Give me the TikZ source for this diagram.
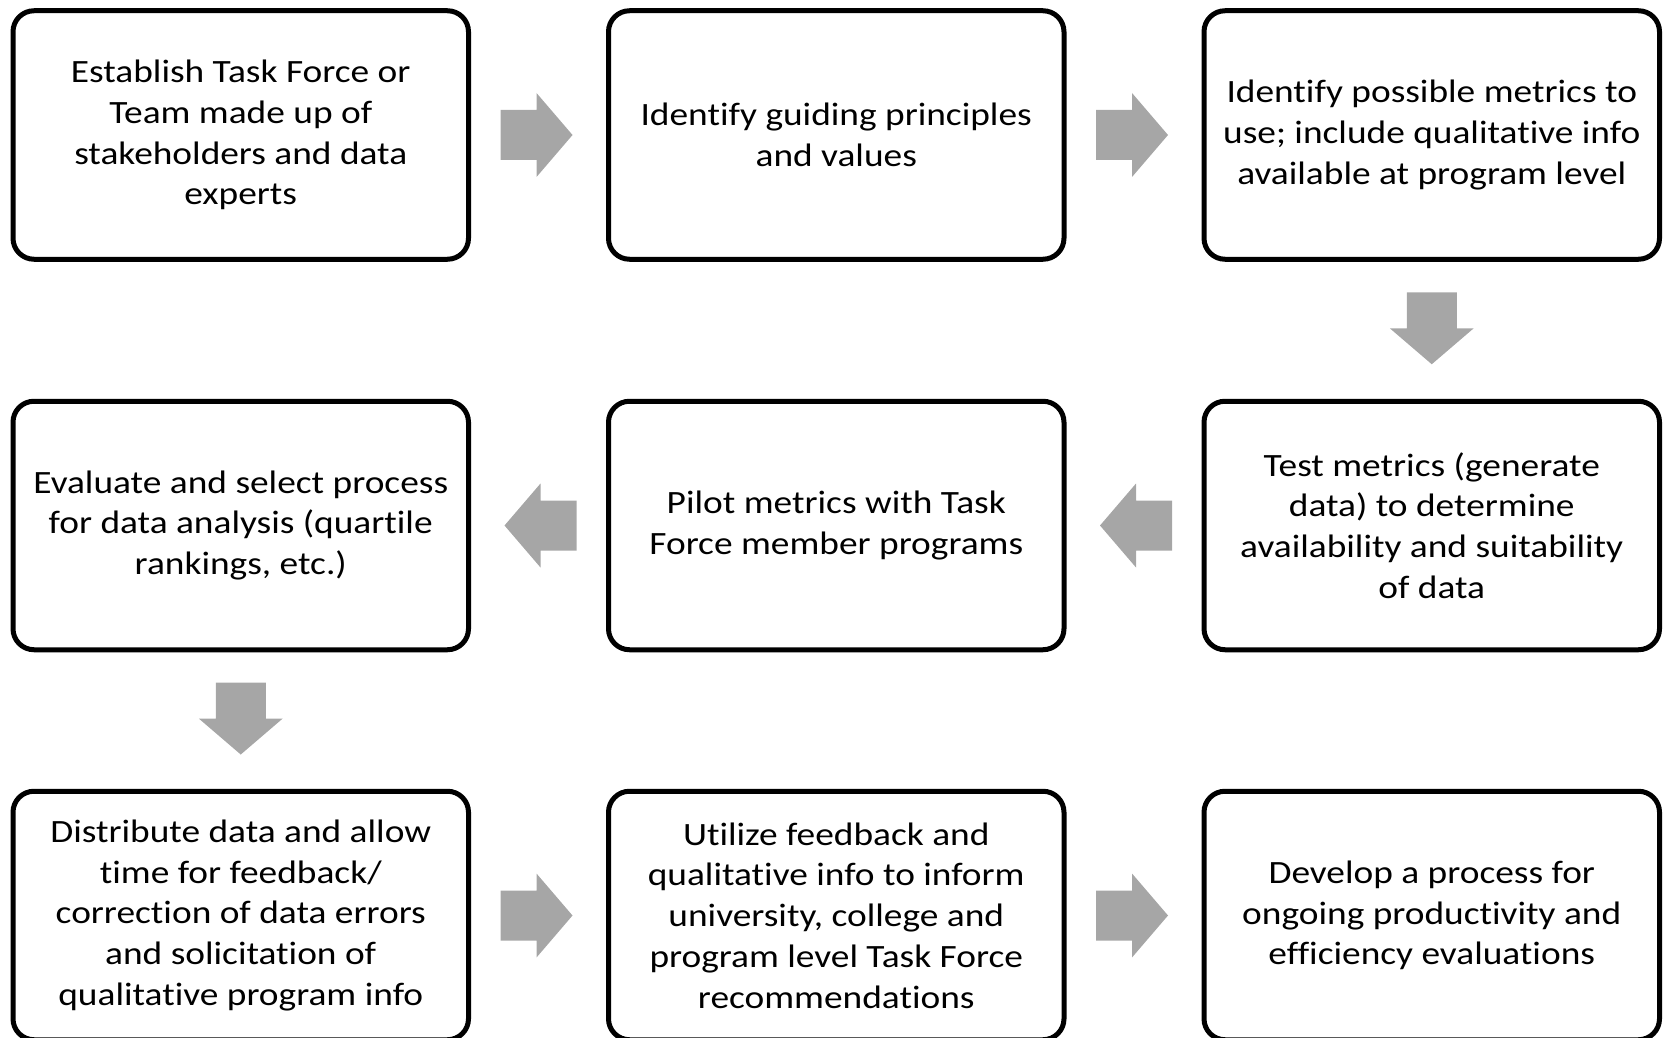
\documentclass[tikz,border=0pt]{standalone}
\usepackage{fontspec}
\setmainfont{Carlito}[FakeStretch=1.15, Ligatures=NoCommon]
\usetikzlibrary{calc}
\definecolor{arrowgray}{HTML}{A6A6A6}
\tikzset{
  stepbox/.style={draw=black, line width=5pt, fill=white, rounded corners=21pt,
    minimum width=455.5pt, minimum height=248.5pt, inner sep=0pt, align=center,
    font=\fontsize{32.5pt}{40.8pt}\selectfont},
  % grey block arrow pointing along +x, slightly set back toward its tail
  pics/blockarrow/.style={code={
    \fill[arrowgray] (-38pt,-25pt) -- (-2pt,-25pt) -- (-2pt,-42pt) -- (34pt,0pt)
      -- (-2pt,42pt) -- (-2pt,25pt) -- (-38pt,25pt) -- cycle;}}
}
\begin{document}
\begin{tikzpicture}
\useasboundingbox (0pt,0pt) rectangle (1663pt,-1038pt);
\clip (0pt,0pt) rectangle (1663pt,-1038pt);

% first row
\node[stepbox] (s1) at (240.75pt,-135pt) {Establish Task Force or\\Team made up of\\stakeholders and data\\experts};
\node[stepbox] (s2) at (836.25pt,-135pt) {Identify guiding principles\\and values};
\node[stepbox] (s3) at (1431.75pt,-135pt) {Identify possible metrics to\\use; include qualitative info\\available at program level};

% second row (runs right to left)
\node[stepbox] (s4) at (1431.75pt,-525.5pt) {Test metrics (generate\\data) to determine\\availability and suitability\\of data};
\node[stepbox] (s5) at (836.25pt,-525.5pt) {Pilot metrics with Task\\Force member programs};
\node[stepbox] (s6) at (240.75pt,-525.5pt) {Evaluate and select process\\for data analysis (quartile\\rankings, etc.)};

% third row
\node[stepbox] (s7) at (240.75pt,-915.5pt) {Distribute data and allow\\time for feedback/\\correction of data errors\\and solicitation of\\qualitative program info};
\node[stepbox] (s8) at (836.25pt,-915.5pt) {Utilize feedback and\\qualitative info to inform\\university, college and\\program level Task Force\\recommendations};
\node[stepbox] (s9) at (1431.75pt,-915.5pt) {Develop a process for\\ongoing productivity and\\efficiency evaluations};

% block arrows between the steps
\pic at ($(s1.east)!0.5!(s2.west)$) {blockarrow};
\pic at ($(s2.east)!0.5!(s3.west)$) {blockarrow};
\pic[rotate=-90] at ($(s3.south)!0.5!(s4.north)$) {blockarrow};
\pic[rotate=180] at ($(s4.west)!0.5!(s5.east)$) {blockarrow};
\pic[rotate=180] at ($(s5.west)!0.5!(s6.east)$) {blockarrow};
\pic[rotate=-90] at ($(s6.south)!0.5!(s7.north)$) {blockarrow};
\pic at ($(s7.east)!0.5!(s8.west)$) {blockarrow};
\pic at ($(s8.east)!0.5!(s9.west)$) {blockarrow};
\end{tikzpicture}
\end{document}
